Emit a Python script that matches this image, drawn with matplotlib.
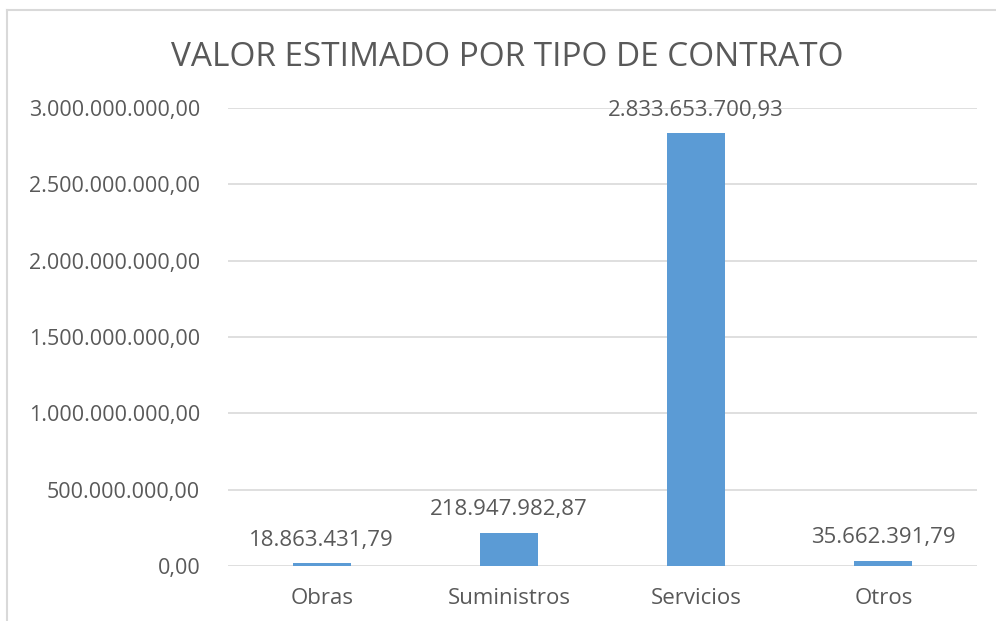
import matplotlib
matplotlib.use("Agg")
import matplotlib.pyplot as plt
from matplotlib.lines import Line2D

categories = ["Obras", "Suministros", "Servicios", "Otros"]
values = [18863431.79, 218947982.87, 2833653700.93, 35662391.79]
yticks = [0, 500000000, 1000000000, 1500000000, 2000000000, 2500000000, 3000000000]
title = "VALOR ESTIMADO POR TIPO DE CONTRATO"

gray = "#595959"
grid_gray = "#d9d9d9"
bar_blue = "#5b9bd5"

plt.rcParams["font.family"] = ["Open Sans", "DejaVu Sans"]


def fmt_es(v):
    # spanish style: dot thousands, comma decimals
    s = "{:,.2f}".format(v)
    return s.replace(",", "X").replace(".", ",").replace("X", ".")


fig = plt.figure(figsize=(9.96, 6.21), dpi=100)
ax = fig.add_axes([228 / 996, 55 / 621, (977 - 228) / 996, (566 - 108) / 621])

x = range(len(categories))
ax.bar(x, values, width=0.31, color=bar_blue, zorder=3)

for xi, v in zip(x, values):
    ax.annotate(fmt_es(v), (xi, v), xytext=(0, 9), textcoords="offset points",
                ha="center", va="bottom", fontsize=16, color=gray, zorder=4)

ax.set_xlim(-0.5, len(categories) - 0.5)
ax.set_ylim(0, 3000000000)
ax.set_yticks(yticks)
ax.set_yticklabels([fmt_es(t) for t in yticks])
ax.set_xticks(list(x))
ax.set_xticklabels(categories)
ax.tick_params(axis="both", length=0, labelsize=15.5, labelcolor=gray)
ax.tick_params(axis="x", labelsize=16, pad=16)
ax.tick_params(axis="y", pad=20)
ax.grid(axis="y", color=grid_gray, linewidth=1.2, zorder=0)
for sp in ax.spines.values():
    sp.set_visible(False)

fig.text(507 / 996, 1 - 58 / 621, title, ha="center", va="center",
         fontsize=24, color=gray)

# outer chart border (left and top only visible)
fig.add_artist(Line2D([7 / 996, 7 / 996], [0, 1 - 10 / 621], color=grid_gray,
                      linewidth=1.5, transform=fig.transFigure))
fig.add_artist(Line2D([7 / 996, 1], [1 - 10 / 621, 1 - 10 / 621], color=grid_gray,
                      linewidth=1.5, transform=fig.transFigure))

fig.savefig("out.png", dpi=100)
